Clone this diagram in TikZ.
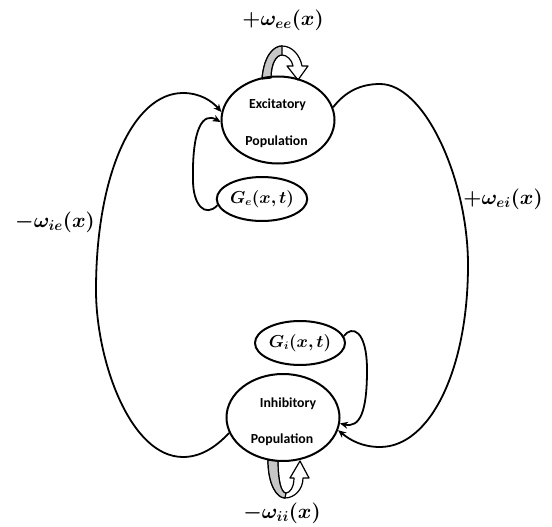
\documentclass[tikz,border=0pt]{standalone}
\usepackage{fontspec}
\usepackage{bm}
\usetikzlibrary{shapes.geometric,arrows.meta}
\newfontfamily\calfont{Carlito}
\tikzset{
 pop/.style={ellipse, draw, line width=2pt, minimum width=113pt, minimum height=87pt, inner sep=0pt},
 gnode/.style={ellipse, draw, line width=2pt, minimum width=90pt, minimum height=44pt, inner sep=0pt, font=\fontsize{16}{18}\selectfont},
 ptext/.style={font=\calfont\bfseries\fontsize{13.8}{16}\selectfont, inner sep=0pt},
 wlabel/.style={font=\fontsize{20.5}{22}\selectfont, inner sep=0pt},
 conn/.style={line width=1.8pt},
 arr/.style={conn, -{Stealth[length=8pt,width=7pt]}},
 loopband/.style={line width=1.2pt, fill=white, line join=round},
 loopgray/.style={line width=1.2pt, fill=black!22, line join=round},
}
\begin{document}
\begin{tikzpicture}[x=1pt,y=-1pt]
\useasboundingbox (0,0) rectangle (552,527);
% self loops (gray band arrows)
\draw[loopband] (262,79) .. controls (264,55) and (274,46) .. (282,46) .. controls (292,46) and (300,55) .. (302,66) -- (308,66) -- (298,80) -- (287,66) -- (293,66) .. controls (292,60) and (287,55) .. (282,55) .. controls (276,55) and (271,64) .. (271,78);
\draw[loopgray] (262,79) .. controls (264,55) and (274,46) .. (282,46) -- (282,55) .. controls (276,55) and (271,64) .. (271,78) -- cycle;
\draw[loopband] (268,460) .. controls (268,485) and (277,498) .. (285,498) .. controls (294,498) and (303,490) .. (303,478) -- (309,478) -- (300,461) -- (290,478) -- (294,478) .. controls (294,487) and (290,493) .. (286,493) .. controls (281,493) and (278,480) .. (278,461);
\draw[loopgray] (268,460) .. controls (268,485) and (277,498) .. (285,498) -- (286,493) .. controls (281,493) and (278,480) .. (278,461) -- cycle;
% populations
\node[pop] (exc) at (278,120) {};
\node[ptext] (excA) at (277.5,105) {Excitatory};
\node[ptext] (excB) at (276.5,142) {Population};
\node[pop] (inh) at (283,417.5) {};
\node[ptext] (inhA) at (288,403.5) {Inhibitory};
\node[ptext] (inhB) at (282,440) {Population};
\node[gnode] (ge) at (262,199) {$\bm{G_e(x,t)}$};
\node[gnode] (gi) at (300,343) {$\bm{G_i(x,t)}$};
% labels
\node[wlabel] (wee) at (283,20) {$\bm{+\omega_{ee}(x)}$};
\node[wlabel] (wii) at (282,513) {$\bm{-\omega_{ii}(x)}$};
\node[wlabel] (wie) at (55,222) {$\bm{-\omega_{ie}(x)}$};
\node[wlabel] (wei) at (503,199) {$\bm{+\omega_{ei}(x)}$};
% connectors
\draw[arr] (inh.196) .. controls (215,448) and (200,457) .. (183,457) .. controls (130,457) and (96,360) .. (96,290) .. controls (96,175) and (133,93) .. (183,93) .. controls (200,93) and (212,101) .. (exc.172);
\draw[arr] (exc.13) .. controls (345,92) and (360,84) .. (380,84) .. controls (425,84) and (468,180) .. (468,265) .. controls (468,370) and (430,447) .. (380,447) .. controls (362,447) and (350,440) .. (inh.347);
\draw[arr] (ge.188) .. controls (205,218) and (193,205) .. (193,180) .. controls (192,128) and (203,112) .. (exc.182);
\draw[arr] (gi.9) .. controls (352,325) and (367,330) .. (367,370) .. controls (367,412) and (360,428) .. (inh.354);
\end{tikzpicture}
\end{document}
